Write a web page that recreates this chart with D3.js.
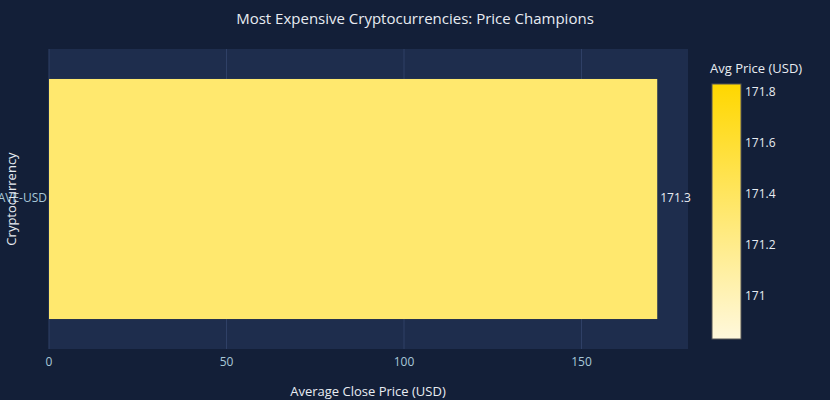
<!DOCTYPE html><html><head><meta charset="utf-8">
<script src="https://cdn.jsdelivr.net/npm/d3@7"></script>
<style>body{margin:0;background:#131f38;}svg{font-family:"Open Sans",sans-serif;}</style></head><body>
<svg id="c" width="830" height="400"></svg>
<script>
const categories = ["AAVE-USD"];
const avgPrices = [171.334];
const xTicks = [0, 50, 100, 150];
const cbTicks = [171, 171.2, 171.4, 171.6, 171.8];

const svg = d3.select("#c");
svg.append("rect").attr("width",830).attr("height",400).attr("fill","#131f38");
const m = {l:49, r:688, t:49, b:349};
svg.append("rect").attr("x",m.l).attr("y",m.t).attr("width",m.r-m.l).attr("height",m.b-m.t).attr("fill","#1e2d4d");
const x = d3.scaleLinear().domain([0,180]).range([m.l,m.r]);
const y = d3.scaleBand().domain(categories).range([m.t,m.b]).padding(0.111);
const cmin=170.834, cmax=171.834;
const color = d3.scaleLinear().domain([cmin,cmax]).range(["#fff8dc","#ffd700"]);

xTicks.forEach(t=>{
  svg.append("line").attr("x1",x(t)).attr("x2",x(t)).attr("y1",m.t).attr("y2",m.b).attr("stroke","#2f4066").attr("stroke-width",1);
  svg.append("text").attr("x",x(t)).attr("y",m.b+14).attr("text-anchor","middle").attr("fill","#a8c8d8").attr("font-size",12).attr("dominant-baseline","middle").text(t);
});
svg.selectAll(".bar").data(categories).enter().append("rect")
  .attr("x",x(0)).attr("y",d=>y(d)).attr("height",y.bandwidth())
  .attr("width",(d,i)=>x(avgPrices[i])-x(0)).attr("fill",(d,i)=>color(avgPrices[i]));
categories.forEach((c,i)=>{
  svg.append("text").attr("x",x(avgPrices[i])+3).attr("y",y(c)+y.bandwidth()/2).attr("dominant-baseline","middle").attr("fill","#e8ecf2").attr("font-size",12).text(avgPrices[i].toFixed(1));
  svg.append("text").attr("x",m.l-2).attr("y",y(c)+y.bandwidth()/2).attr("text-anchor","end").attr("dominant-baseline","middle").attr("fill","#a8c8d8").attr("font-size",12).text(c);
});
svg.append("text").attr("x",415).attr("y",24).attr("text-anchor","middle").attr("fill","#e8ecf2").attr("font-size",15).text("Most Expensive Cryptocurrencies: Price Champions");
svg.append("text").attr("x",368).attr("y",396).attr("text-anchor","middle").attr("fill","#e8ecf2").attr("font-size",13).text("Average Close Price (USD)");
svg.append("text").attr("transform","translate(16,199) rotate(-90)").attr("text-anchor","middle").attr("fill","#e8ecf2").attr("font-size",13).text("Cryptocurrency");

const defs = svg.append("defs");
const g = defs.append("linearGradient").attr("id","cg").attr("x1",0).attr("x2",0).attr("y1",1).attr("y2",0);
g.append("stop").attr("offset","0%").attr("stop-color",color(cmin));
g.append("stop").attr("offset","100%").attr("stop-color",color(cmax));
const cy = d3.scaleLinear().domain([cmin,cmax]).range([339,84]);
svg.append("rect").attr("x",712).attr("y",84).attr("width",29).attr("height",255).attr("fill","url(#cg)").attr("stroke","#555").attr("stroke-width",1);
cbTicks.forEach(t=>{
  svg.append("text").attr("x",745).attr("y",cy(t)).attr("dominant-baseline","middle").attr("fill","#e8ecf2").attr("font-size",12).text(t);
});
svg.append("text").attr("x",710).attr("y",73).attr("fill","#e8ecf2").attr("font-size",13).text("Avg Price (USD)");
</script></body></html>
